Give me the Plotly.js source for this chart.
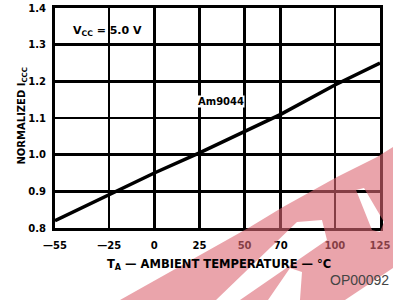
<!DOCTYPE html>
<html>
<head>
<meta charset="utf-8">
<script src="https://cdn.plot.ly/plotly-3.0.1.min.js"></script>
<style>html,body{margin:0;padding:0;background:#fff;}#chart{width:393px;height:300px;}</style>
</head>
<body>
<div id="chart"></div>
<script>
// Data
const temperatures = [-55, -25, 0, 25, 50, 70, 100, 125];
const normalizedIcc = [0.82, 0.89, 0.95, 1.005, 1.063, 1.11, 1.19, 1.25];
const xTickVals = [-55, -25, 0, 25, 50, 70, 100, 125];
const xTickText = ['\u201455', '\u201425', '0', '25', '50', '70', '100', '125'];
const yTickVals = [0.8, 0.9, 1.0, 1.1, 1.2, 1.3, 1.4];
const yTickText = ['0.8', '0.9', '1.0', '1.1', '1.2', '1.3', '1.4'];
const seriesName = 'Am9044';

// layout geometry (pixels)
const W = 393, H = 300, L = 55, R = 380, T = 8, B = 228;
function px(x) { return (x - L) / (R - L); }
function py(y) { return (B - y) / (B - T); }
function sub(pts) {
  return pts.map((p, i) => (i ? 'L' : 'M') + px(p[0]).toFixed(4) + ',' + py(p[1]).toFixed(4)).join(' ') + ' Z';
}
// watermark outline (decoration), with a hole of opposite winding
const outer = [[120, 300], [250, 227], [283, 207], [337, 177], [377, 157], [393, 147],
  [393, 268], [345, 300], [300, 300], [302, 272], [290, 268], [268, 300],
  [240, 300], [327, 240], [322, 220], [297, 222], [216, 300]];
const hole = [[356, 190], [364, 188], [384, 222], [380, 232], [372, 230]].reverse();
const watermark = {type: 'path', xref: 'paper', yref: 'paper', layer: 'above',
  path: sub(outer) + ' ' + sub(hole), fillcolor: 'rgba(220,103,115,0.6)', line: {width: 0}};

const font = 'DejaVu Sans, Liberation Sans, Arial, sans-serif';

const trace = {
  x: temperatures, y: normalizedIcc, type: 'scatter', mode: 'lines',
  name: seriesName, line: {color: '#000', width: 3.5}, hoverinfo: 'skip'
};

const layout = {
  width: W, height: H,
  margin: {l: L, r: W - R, t: T, b: H - B, pad: 0},
  paper_bgcolor: '#ffffff', plot_bgcolor: '#ffffff',
  showlegend: false,
  font: {family: font, color: '#000'},
  xaxis: {
    range: [-55, 125], tickmode: 'array', tickvals: xTickVals, ticktext: xTickText,
    showgrid: true, gridcolor: '#000', gridwidth: 2.5, zeroline: false,
    showline: true, linecolor: '#000', linewidth: 3, mirror: true,
    ticks: '', ticklabelstandoff: 6,
    tickfont: {family: font, size: 10, color: '#000', weight: 'bold'}
  },
  yaxis: {
    range: [0.8, 1.4], tickmode: 'array', tickvals: yTickVals, ticktext: yTickText,
    showgrid: true, gridcolor: '#000', gridwidth: 2.5, zeroline: false,
    showline: true, linecolor: '#000', linewidth: 3, mirror: true,
    ticks: '', ticklabelstandoff: 4,
    tickfont: {family: font, size: 10, color: '#000', weight: 'bold'}
  },
  shapes: [watermark],
  annotations: [
    {x: -26, y: 1.338, xref: 'x', yref: 'y', showarrow: false,
     text: '<b>V<sub>CC</sub> = 5.0 V</b>', font: {family: font, size: 11, color: '#000'}},
    {x: 37, y: 1.146, xref: 'x', yref: 'y', showarrow: false, bgcolor: '#ffffff', borderpad: 0,
     text: '<b>' + seriesName + '</b>', font: {family: font, size: 10, color: '#000'}},
    {x: px(219), y: py(274), xref: 'paper', yref: 'paper', showarrow: false,
     text: '<b>T<sub>A</sub> \u2014 AMBIENT TEMPERATURE \u2014 \u00B0C</b>',
     font: {family: font, size: 11.5, color: '#000'}},
    {x: px(13), y: py(116), xref: 'paper', yref: 'paper', showarrow: false, textangle: -90,
     text: '<b>NORMALIZED I<sub>CCC</sub></b>', font: {family: font, size: 10, color: '#000'}},
    {x: px(391), y: py(290), xref: 'paper', yref: 'paper', showarrow: false, xanchor: 'right',
     text: 'OP00092', font: {family: 'Liberation Sans, Arial, sans-serif', size: 14, color: '#444'}}
  ]
};

Plotly.newPlot('chart', [trace], layout, {displayModeBar: false, staticPlot: true});
</script>
</body>
</html>
